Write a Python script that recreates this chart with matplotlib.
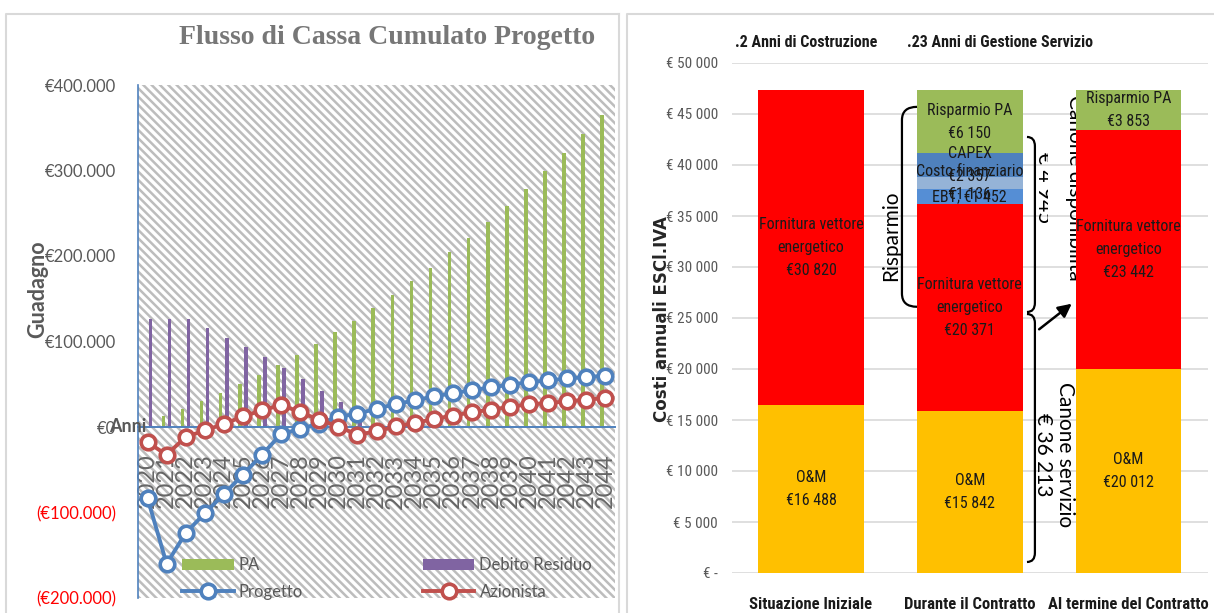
import numpy as np
import matplotlib
matplotlib.use("Agg")
import matplotlib.pyplot as plt
from matplotlib import font_manager
from matplotlib.patches import Rectangle, PathPatch
from matplotlib.path import Path
from matplotlib.lines import Line2D
from matplotlib.transforms import Bbox, blended_transform_factory

# ---------------- data: cumulative cash flow ----------------
years = list(range(2020, 2045))
pa = [0, 12400, 21000, 29900, 39700, 49800, 60800, 72400, 84500, 97300,
      111000, 124200, 139000, 154600, 170200, 186500, 204200, 221600,
      240300, 259000, 278900, 299600, 320600, 342400, 364600]
debito_residuo = [126300, 126300, 126300, 115800, 104500, 93200, 81500,
                  69000, 55800, 42500, 28900, 15000, 0, 0, 0, 0, 0, 0, 0,
                  0, 0, 0, 0, 0, 0]
progetto = [-83300, -160000, -124000, -100900, -78500, -55700, -32400,
            -8200, -2300, 4000, 12000, 15500, 21400, 26800, 31100, 35800,
            39500, 43000, 46400, 49500, 52500, 54400, 56800, 58400, 60000]
azionista = [-18000, -32400, -11700, -4000, 3500, 12400, 19400, 25800,
             17300, 8500, 500, -9000, -5100, 700, 4600, 9300, 13400, 17300,
             20200, 23700, 26600, 28000, 30000, 32000, 33900]
left_yticks = [-200000, -100000, 0, 100000, 200000, 300000, 400000]

# ---------------- data: annual costs ----------------
scenari = ["Situazione Iniziale", "Durante il Contratto", "Al termine del Contratto"]
om = [16488, 15842, 20012]
fornitura = [30820, 20371, 23442]
ebt = [0, 1452, 0]
costo_fin = [0, 1136, 0]
capex = [0, 2357, 0]
risparmio_pa = [0, 6150, 3853]
right_yticks = list(range(0, 50001, 5000))

# ---------------- fonts ----------------
installed = {f.name for f in font_manager.fontManager.ttflist}


def pick(*cands):
    for c in cands:
        if c in installed:
            return c
    return "DejaVu Sans"


SANS = pick("Lato", "Open Sans", "DejaVu Sans")
NARROW = pick("Liberation Sans Narrow", "Roboto Condensed", "DejaVu Sans")
SERIF = pick("Liberation Serif", "DejaVu Serif")

plt.rcParams["hatch.linewidth"] = 1.8

W, H = 1214, 613
fig = plt.figure(figsize=(W / 100, H / 100), dpi=100)
fig.patch.set_facecolor("white")


def fx(px):
    return px / W


def fy(py):
    return 1 - py / H


# panel frames
for x0, x1 in ((6, 619), (627, 1240)):
    fig.add_artist(Line2D([fx(x0), fx(x0), fx(x1)], [fy(640), fy(14), fy(14)],
                          color="#d9d9d9", lw=1.5, transform=fig.transFigure))
fig.add_artist(Line2D([fx(619), fx(619)], [fy(14), fy(640)],
                      color="#d9d9d9", lw=1.5, transform=fig.transFigure))

# ======================= left chart =======================
ax1 = fig.add_axes([fx(138), fy(598), 477 / W, 513 / H])
ax1.set_facecolor("none")
ax1.add_patch(Rectangle((0, 0), 1, 1, transform=ax1.transAxes,
                        facecolor="white", edgecolor="#bdbdbd",
                        hatch="\\\\\\\\", lw=0, zorder=0))
x = np.arange(len(years))
BLUE = "#4F81BD"
RED = "#C0504D"
b_pa = ax1.bar(x - 0.17, pa, width=0.19, color="#9BBB59", zorder=1, label="PA")
b_deb = ax1.bar(x + 0.15, debito_residuo, width=0.19, color="#8064A2", zorder=1,
                label="Debito Residuo")
l_prog, = ax1.plot(x, progetto, color=BLUE, lw=2.8, marker="o", ms=10.5,
                   mfc="white", mec=BLUE, mew=2.6, zorder=4, label="Progetto")
l_az, = ax1.plot(x, azionista, color=RED, lw=2.8, marker="o", ms=10.5,
                 mfc="white", mec=RED, mew=2.6, zorder=5, label="Azionista")

ax1.set_xlim(-0.5, len(years) - 0.5)
ax1.set_ylim(left_yticks[0], left_yticks[-1])
for s in ("top", "right"):
    ax1.spines[s].set_visible(False)
ax1.spines["left"].set_color(BLUE)
ax1.spines["left"].set_linewidth(1.2)
ax1.spines["bottom"].set_position(("data", 0))
ax1.spines["bottom"].set_color(BLUE)
ax1.spines["bottom"].set_linewidth(1.4)
ax1.spines["bottom"].set_zorder(3)


def eur_dot(v):
    s = "€" + f"{abs(v):,.0f}".replace(",", ".")
    return f"({s})" if v < 0 else s


ax1.set_yticks(left_yticks)
ax1.set_yticklabels([eur_dot(v) for v in left_yticks])
for v, t in zip(left_yticks, ax1.get_yticklabels()):
    t.set_color("#FF0000" if v < 0 else "#595959")
    t.set_fontfamily(SANS)
    t.set_fontsize(12)
ax1.tick_params(axis="y", length=0, pad=16)

ax1.set_xticks(x)
ax1.set_xticklabels([str(y) for y in years], rotation=90, fontsize=17,
                    color="#666666", family=SANS)
ax1.tick_params(axis="x", length=0, pad=19)

tr = blended_transform_factory(ax1.transAxes, ax1.transData)
ax1.text(-0.022, 0, "Anni", transform=tr, ha="center", va="center",
         fontsize=13, fontweight="bold", color="#595959", family=SANS,
         clip_on=False, zorder=6)

leg = ax1.legend(handles=[b_pa, l_prog, b_deb, l_az], ncol=2,
                 loc="lower left", bbox_to_anchor=(0.092, -0.003),
                 frameon=False, prop={"family": SANS, "size": 12},
                 handlelength=3.1, handleheight=0.7, handletextpad=0.3,
                 columnspacing=7.2, labelspacing=0.62, borderpad=0,
                 borderaxespad=0)
for t in leg.get_texts():
    t.set_color("#595959")

fig.text(fx(387), fy(38), "Flusso di Cassa Cumulato Progetto", ha="center",
         va="center", fontsize=20, fontweight="bold", family=SERIF,
         color="#777777")
fig.text(fx(38), fy(289), "Guadagno", rotation=90, ha="center", va="center",
         fontsize=15.5, fontweight="bold", family=SANS, color="#595959")

# ======================= right chart =======================
ax2 = fig.add_axes([fx(731.7), fy(573), 476 / W, 510 / H])
ax2.set_xlim(-0.5, 2.5)
ax2.set_ylim(0, right_yticks[-1])
for s in ax2.spines.values():
    s.set_visible(False)
ax2.set_yticks(right_yticks)
ax2.set_yticklabels(["€ " + (f"{v:,}".replace(",", " ") if v else "-")
                     for v in right_yticks],
                    family=NARROW, fontsize=11, color="#595959")
ax2.tick_params(axis="y", length=0, pad=10)
ax2.yaxis.grid(True, color="#d9d9d9", lw=1.2, zorder=0)
ax2.set_axisbelow(True)
ax2.set_xticks(range(len(scenari)))
ax2.set_xticklabels(scenari, family=NARROW, fontsize=12, fontweight="bold",
                    color="#1a1a1a")
ax2.tick_params(axis="x", length=0, pad=17)

xs = np.arange(len(scenari))
BW = 0.666
segments = [
    (om, "#FFC000", lambda v: "O&M\n€" + f"{v:,}".replace(",", " ")),
    (fornitura, "#FF0000",
     lambda v: "Fornitura vettore\nenergetico\n€" + f"{v:,}".replace(",", " ")),
    (ebt, "#558ED5", lambda v: "EBT; €" + f"{v:,}".replace(",", " ")),
    (costo_fin, "#95B3D7",
     lambda v: "Costo finanziario\n€" + f"{v:,}".replace(",", " ")),
    (capex, "#4F81BD", lambda v: "CAPEX\n€" + f"{v:,}".replace(",", " ")),
    (risparmio_pa, "#9BBB59",
     lambda v: "Risparmio PA\n€" + f"{v:,}".replace(",", " ")),
]
bottom = np.zeros(len(scenari))
for vals, col, fmt in segments:
    vals = np.array(vals, dtype=float)
    ax2.bar(xs, vals, bottom=bottom, width=BW, color=col, zorder=2)
    for i, v in enumerate(vals):
        if v > 0:
            ax2.text(xs[i], bottom[i] + v / 2, fmt(int(v)), ha="center",
                     va="center", family=NARROW, fontsize=11.5,
                     linespacing=1.65, color="#1a1a1a", zorder=4)
    bottom += vals

trh = blended_transform_factory(ax2.transData, ax2.transAxes)
ax2.text(-0.03, 1.041, ".2 Anni di Costruzione", transform=trh, ha="center",
         va="center", family=NARROW, fontsize=11.5, fontweight="bold",
         color="#1a1a1a")
ax2.text(1.19, 1.041, ".23 Anni di Gestione Servizio", transform=trh,
         ha="center", va="center", family=NARROW, fontsize=11.5,
         fontweight="bold", color="#1a1a1a")
fig.text(fx(661.7), fy(319), "Costi annuali ESCl.IVA", rotation=90,
         ha="center", va="center", fontsize=12, fontweight="bold",
         family="DejaVu Sans", color="#262626")


def bracket(ax, x_line, x_hook, y_top, y_bot, r):
    verts = [(x_hook, y_top), (x_line, y_top), (x_line, y_top - r),
             (x_line, y_bot + r), (x_line, y_bot), (x_hook, y_bot)]
    codes = [Path.MOVETO, Path.CURVE3, Path.CURVE3, Path.LINETO,
             Path.CURVE3, Path.CURVE3]
    ax.add_patch(PathPatch(Path(verts, codes), facecolor="none",
                           edgecolor="black", lw=1.6, zorder=5,
                           clip_on=False))


# savings bracket next to the middle bar
bracket(ax2, 0.573, 0.668, 45700, 26100, 1300)
ax2.text(0.504, 33100, "Risparmio", rotation=90, ha="center", va="center",
         family=SANS, fontsize=15, color="black", zorder=5)

# fee brackets
bracket(ax2, 1.411, 1.361, 42750, 25590, 900)
bracket(ax2, 1.411, 1.361, 25390, 1080, 900)
ax2.text(1.531, 11570, "Canone servizio\n€ 36 213", rotation=-90,
         ha="center", va="center", multialignment="center", family=SANS,
         fontsize=15, linespacing=1.1, color="black", zorder=5)

t_disp = ax2.text(1.665, 37750, "Canone disponibilità", rotation=-90,
                  ha="center", va="center", family=SANS, fontsize=15,
                  color="black", zorder=1.5)
t_val = ax2.text(1.468, 37750, "€ 4 945", rotation=-90, ha="center",
                 va="center", family=SANS, fontsize=15, color="black",
                 zorder=1.5)
xclip = ax2.transData.transform((1.493, 0))[0]
t_val.set_clip_box(Bbox.from_extents(0, 0, xclip, 10000))
t_val.set_clip_on(True)

ax2.annotate("", xy=(1.657, 26570), xytext=(1.424, 23725),
             arrowprops=dict(arrowstyle="-|>", color="black", lw=1.8,
                             mutation_scale=20), zorder=6)

fig.savefig("out.png", dpi=100)
